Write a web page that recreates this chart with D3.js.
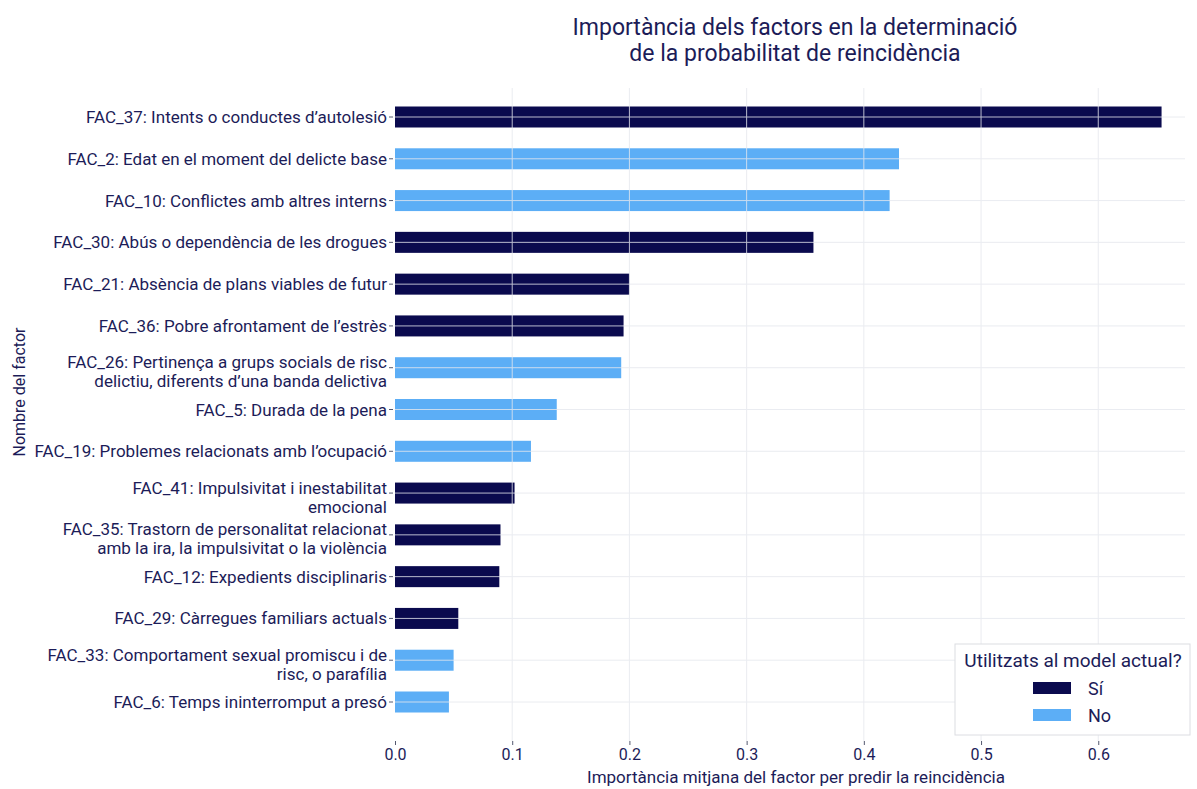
<!DOCTYPE html>
<html>
<head>
<meta charset="utf-8">
<script src="https://cdn.jsdelivr.net/npm/d3@7"></script>
<style>
  html, body { margin: 0; padding: 0; background: #ffffff; }
  svg text { font-family: Roboto, "Noto Sans", sans-serif; }
</style>
</head>
<body>
<svg id="chart" width="1197" height="789"></svg>
<script>
// Factors, ordered from most to least important (top to bottom)
const factorLabels = [
  ["FAC_37: Intents o conductes d’autolesió"],
  ["FAC_2: Edat en el moment del delicte base"],
  ["FAC_10: Conflictes amb altres interns"],
  ["FAC_30: Abús o dependència de les drogues"],
  ["FAC_21: Absència de plans viables de futur"],
  ["FAC_36: Pobre afrontament de l’estrès"],
  ["FAC_26: Pertinença a grups socials de risc", "delictiu, diferents d’una banda delictiva"],
  ["FAC_5: Durada de la pena"],
  ["FAC_19: Problemes relacionats amb l’ocupació"],
  ["FAC_41: Impulsivitat i inestabilitat", "emocional"],
  ["FAC_35: Trastorn de personalitat relacionat", "amb la ira, la impulsivitat o la violència"],
  ["FAC_12: Expedients disciplinaris"],
  ["FAC_29: Càrregues familiars actuals"],
  ["FAC_33: Comportament sexual promiscu i de", "risc, o parafília"],
  ["FAC_6: Temps ininterromput a presó"]
];
// Mean importance of each factor
const importance = [0.654, 0.430, 0.422, 0.357, 0.200, 0.195, 0.193, 0.138, 0.116, 0.102, 0.090, 0.089, 0.054, 0.050, 0.046];
// Whether the factor is used in the current model
const usedInModel = ["Sí", "No", "No", "Sí", "Sí", "Sí", "No", "No", "No", "Sí", "Sí", "Sí", "Sí", "No", "No"];
const legendKeys = ["Sí", "No"];
const xTicks = [0, 0.1, 0.2, 0.3, 0.4, 0.5, 0.6];

const textColor = "#1c1c58";
const colour = d3.scaleOrdinal().domain(legendKeys).range(["#0a0a4e", "#5caef6"]);

const svg = d3.select("#chart");
const ids = factorLabels.map((d, i) => i);

const x = d3.scaleLinear().domain([0, 0.674]).range([395, 1185]);
const y = d3.scalePoint().domain(ids).range([117, 702]);
const barH = 21;
const axisY = 741;

// Bars
svg.append("g").selectAll("rect")
  .data(ids)
  .join("rect")
  .attr("x", x(0))
  .attr("y", i => y(i) - barH / 2)
  .attr("width", i => x(importance[i]) - x(0))
  .attr("height", barH)
  .attr("fill", i => colour(usedInModel[i]));

// Grid lines, drawn above the bars
const grid = svg.append("g").attr("stroke", "#e6e8ee").attr("stroke-width", 1).attr("opacity", 0.8);
grid.selectAll("line.v")
  .data(xTicks.filter(t => t > 0))
  .join("line")
  .attr("class", "v")
  .attr("x1", d => x(d)).attr("x2", d => x(d))
  .attr("y1", 88).attr("y2", axisY);
grid.selectAll("line.h")
  .data(ids)
  .join("line")
  .attr("class", "h")
  .attr("x1", x(0)).attr("x2", 1185)
  .attr("y1", i => y(i)).attr("y2", i => y(i));

// Y axis: tick marks and (possibly two-line) labels
const yAxis = svg.append("g");
yAxis.selectAll("line")
  .data(ids)
  .join("line")
  .attr("x1", 389).attr("x2", 393)
  .attr("y1", i => y(i)).attr("y2", i => y(i))
  .attr("stroke", "#555a70").attr("stroke-width", 1);
const yLabels = yAxis.selectAll("text")
  .data(ids)
  .join("text")
  .attr("text-anchor", "end")
  .attr("font-size", 17)
  .attr("fill", textColor);
yLabels.each(function(i) {
  const lines = factorLabels[i];
  const t = d3.select(this);
  const offsets = lines.length === 1 ? [6] : [0.5, 19.5];
  lines.forEach((line, k) => {
    t.append("tspan")
      .attr("x", 387)
      .attr("y", y(i) + offsets[k])
      .text(line);
  });
});

// X axis
const xAxis = d3.axisBottom(x)
  .tickValues(xTicks)
  .tickFormat(d3.format(".1f"))
  .tickSize(4)
  .tickPadding(4);
const gx = svg.append("g").attr("transform", `translate(0,${axisY})`).call(xAxis);
gx.select(".domain").remove();
gx.selectAll(".tick line").attr("stroke", "#555a70");
gx.selectAll(".tick text")
  .attr("font-size", 16)
  .attr("font-family", "Roboto, sans-serif")
  .attr("fill", textColor);

// Axis titles
svg.append("text")
  .attr("x", 796).attr("y", 783)
  .attr("text-anchor", "middle")
  .attr("font-size", 17)
  .attr("fill", textColor)
  .text("Importància mitjana del factor per predir la reincidència");

svg.append("text")
  .attr("transform", "translate(25,392) rotate(-90)")
  .attr("text-anchor", "middle")
  .attr("font-size", 16)
  .attr("fill", textColor)
  .text("Nombre del factor");

// Title
const title = svg.append("text")
  .attr("text-anchor", "middle")
  .attr("font-size", 23)
  .attr("fill", textColor);
title.append("tspan").attr("x", 795).attr("y", 35).text("Importància dels factors en la determinació");
title.append("tspan").attr("x", 795).attr("y", 61).text("de la probabilitat de reincidència");

// Legend
const legend = svg.append("g");
legend.append("rect")
  .attr("x", 955).attr("y", 644)
  .attr("width", 235).attr("height", 91)
  .attr("fill", "#ffffff")
  .attr("stroke", "#dcdde2");
legend.append("text")
  .attr("x", 1073).attr("y", 667)
  .attr("text-anchor", "middle")
  .attr("font-size", 19)
  .attr("fill", textColor)
  .text("Utilitzats al model actual?");
const items = legend.selectAll("g.item")
  .data(legendKeys)
  .join("g")
  .attr("class", "item")
  .attr("transform", (d, k) => `translate(0,${688 + k * 27})`);
items.append("rect")
  .attr("x", 1033).attr("y", -6)
  .attr("width", 38).attr("height", 12)
  .attr("fill", d => colour(d));
items.append("text")
  .attr("x", 1088).attr("y", 6.5)
  .attr("font-size", 18)
  .attr("fill", textColor)
  .text(d => d);
</script>
</body>
</html>
